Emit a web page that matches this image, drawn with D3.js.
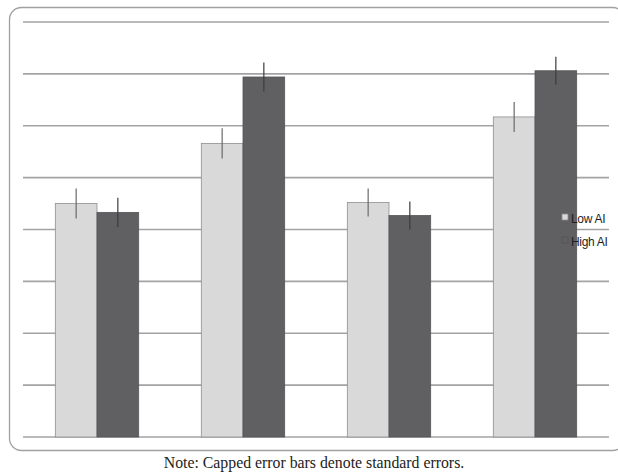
<!DOCTYPE html>
<html>
<head>
<meta charset="utf-8">
<script src="https://cdn.jsdelivr.net/npm/d3@7"></script>
<style>
  body { margin: 0; background: #fff; }
  svg { display: block; }
  .note { font-family: "Liberation Serif", "Times New Roman", serif; }
  .legend text { font-family: "Liberation Sans", Arial, sans-serif; }
</style>
</head>
<body>
<div id="chart"></div>
<script>
// data (no axis labels shown in the original)
var groups = ["1", "2", "3", "4"];
var seriesNames = ["Low AI", "High AI"];
var lowValues = [4.50, 5.66, 4.52, 6.17];
var highValues = [4.33, 6.94, 4.27, 7.06];
var lowErrors = [0.29, 0.29, 0.27, 0.29];
var highErrors = [0.28, 0.28, 0.27, 0.27];
var gridTicks = [0, 1, 2, 3, 4, 5, 6, 7, 8];
var noteText = "Note: Capped error bars denote standard errors.";

var width = 618, height = 476;
var colors = ["#d9d9da", "#606062"];

var svg = d3.select("#chart").append("svg")
    .attr("width", width)
    .attr("height", height);

// outer rounded frame
svg.append("rect")
    .attr("x", 9.5).attr("y", 7.5)
    .attr("width", 615).attr("height", 443)
    .attr("rx", 12).attr("ry", 12)
    .attr("fill", "none")
    .attr("stroke", "#a0a0a0")
    .attr("stroke-width", 1.3);

var x0 = d3.scaleBand()
    .domain(groups)
    .range([24, 608])
    .paddingInner(0.429)
    .paddingOuter(0.2145);

var x1 = d3.scaleBand()
    .domain(seriesNames)
    .range([0, x0.bandwidth()]);

var y = d3.scaleLinear()
    .domain([0, 8])
    .range([437, 22]);

// gridlines
svg.append("g").selectAll("line")
    .data(gridTicks)
    .enter().append("line")
    .attr("x1", 23).attr("x2", 609)
    .attr("y1", function(d) { return y(d); })
    .attr("y2", function(d) { return y(d); })
    .attr("stroke", "#a3a3a5")
    .attr("stroke-width", 1.6);

var rows = groups.map(function(g, i) {
    return [
        { group: g, name: seriesNames[0], value: lowValues[i], err: lowErrors[i], color: colors[0] },
        { group: g, name: seriesNames[1], value: highValues[i], err: highErrors[i], color: colors[1] }
    ];
});

var groupG = svg.append("g").selectAll("g")
    .data(rows)
    .enter().append("g")
    .attr("transform", function(d, i) { return "translate(" + x0(groups[i]) + ",0)"; });

groupG.selectAll("rect")
    .data(function(d) { return d; })
    .enter().append("rect")
    .attr("x", function(d) { return x1(d.name); })
    .attr("y", function(d) { return y(d.value); })
    .attr("width", x1.bandwidth())
    .attr("height", function(d) { return y(0) - y(d.value); })
    .attr("fill", function(d) { return d.color; })
    .attr("stroke", function(d, i) { return i == 0 ? "#8e8e90" : "#555557"; })
    .attr("stroke-width", 0.8);

// error bars (no caps visible in the picture)
groupG.selectAll("line.err")
    .data(function(d) { return d; })
    .enter().append("line")
    .attr("class", "err")
    .attr("x1", function(d) { return x1(d.name) + x1.bandwidth() / 2; })
    .attr("x2", function(d) { return x1(d.name) + x1.bandwidth() / 2; })
    .attr("y1", function(d) { return y(d.value + d.err); })
    .attr("y2", function(d) { return y(d.value - d.err); })
    .attr("stroke", function(d, i) { return i == 0 ? "#6a6a6c" : "#3c3c3e"; })
    .attr("stroke-width", 1.2);

// legend, sits over the last bar like in the original
var legend = svg.append("g").attr("class", "legend").selectAll("g")
    .data(seriesNames)
    .enter().append("g")
    .attr("transform", function(d, i) { return "translate(562," + (214 + i * 23) + ")"; });

legend.append("rect")
    .attr("width", 6).attr("height", 6)
    .attr("fill", function(d, i) { return colors[i]; })
    .attr("stroke", function(d, i) { return i == 0 ? "#8e8e90" : "#555557"; })
    .attr("stroke-width", 0.8);

legend.append("text")
    .attr("x", 9).attr("y", 9)
    .attr("font-size", 12)
    .attr("letter-spacing", -0.3)
    .attr("fill", "#1e1e1e")
    .text(function(d) { return d; });

svg.append("text")
    .attr("class", "note")
    .attr("x", 314).attr("y", 468)
    .attr("text-anchor", "middle")
    .attr("font-size", 15.8)
    .attr("fill", "#222")
    .text(noteText);
</script>
</body>
</html>
